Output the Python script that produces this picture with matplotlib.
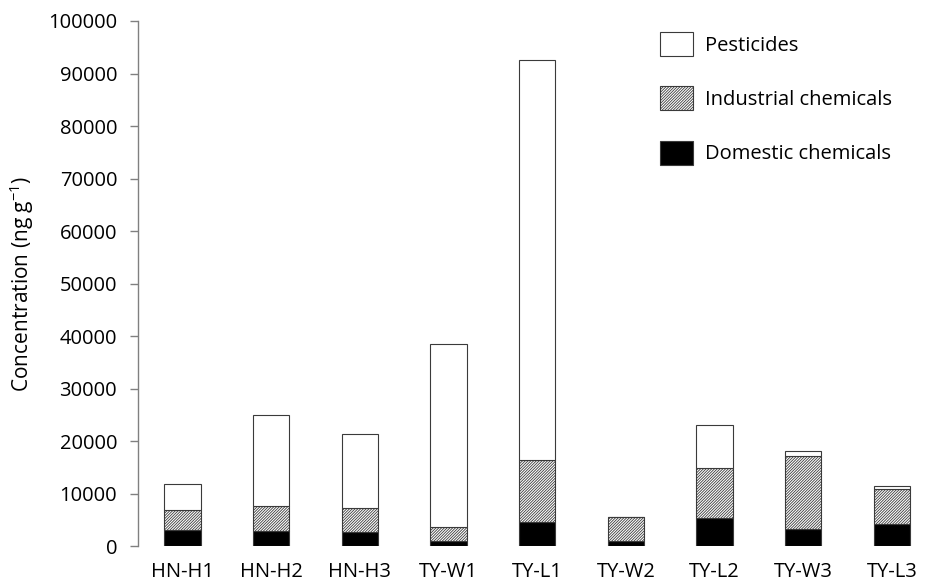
import matplotlib.pyplot as plt
import numpy as np

plt.rcParams['font.family'] = ['Open Sans', 'DejaVu Sans']
plt.rcParams['mathtext.fontset'] = 'custom'
plt.rcParams['mathtext.rm'] = 'Open Sans'
plt.rcParams['mathtext.default'] = 'regular'
plt.rcParams['hatch.linewidth'] = 0.6

samples = ['HN-H1', 'HN-H2', 'HN-H3', 'TY-W1', 'TY-L1', 'TY-W2', 'TY-L2', 'TY-W3', 'TY-L3']
domestic = [3200, 3000, 2760, 1100, 4600, 1100, 5370, 3330, 4290]
industrial = [3700, 4650, 4570, 2610, 11880, 4520, 9530, 13850, 6600]
pesticides = [4950, 17350, 14170, 34860, 76190, 0, 8300, 1010, 630]
yticks = np.arange(0, 100001, 10000)


def main():
    fig = plt.figure(figsize=(9.28, 5.88), dpi=100)
    ax = fig.add_axes([0.1487, 0.0706, 0.8603, 0.8937])

    x = np.arange(len(samples))
    w = 0.41
    edge = '#3a3a3a'
    dom = np.array(domestic)
    ind = np.array(industrial)
    pes = np.array(pesticides)

    ax.bar(x, dom, w, color='black', edgecolor=edge, linewidth=0.8,
           label='Domestic chemicals')
    ax.bar(x, ind, w, bottom=dom, color='white', edgecolor=edge,
           hatch='////////////', linewidth=0.8, label='Industrial chemicals')
    ax.bar(x, pes, w, bottom=dom + ind, color='white', edgecolor=edge,
           linewidth=0.8, label='Pesticides')

    ax.set_xlim(-0.5, len(samples) - 0.5)
    ax.set_ylim(0, 100000)
    ax.set_yticks(yticks)
    ax.set_xticks(x)
    ax.set_xticklabels(samples)
    ax.tick_params(axis='y', labelsize=14.5, length=6, width=1, color='#808080', pad=9)
    ax.tick_params(axis='x', labelsize=14.5, length=0, pad=11)
    for s in ['top', 'right', 'bottom']:
        ax.spines[s].set_visible(False)
    ax.spines['left'].set_color('#808080')
    ax.spines['left'].set_linewidth(1)

    ax.set_ylabel('Concentration (ng g$^{-1}$)', fontsize=15, labelpad=9)

    h, l = ax.get_legend_handles_labels()
    ax.legend(h[::-1], l[::-1], loc='upper left', bbox_to_anchor=(0.711, 0.945),
              bbox_transform=fig.transFigure, frameon=False, fontsize=14.5,
              handlelength=1.65, handleheight=1.45, labelspacing=1.5,
              handletextpad=0.6, borderpad=0, borderaxespad=0)

    fig.savefig('out.png', dpi=100)


if __name__ == "__main__":
    main()
